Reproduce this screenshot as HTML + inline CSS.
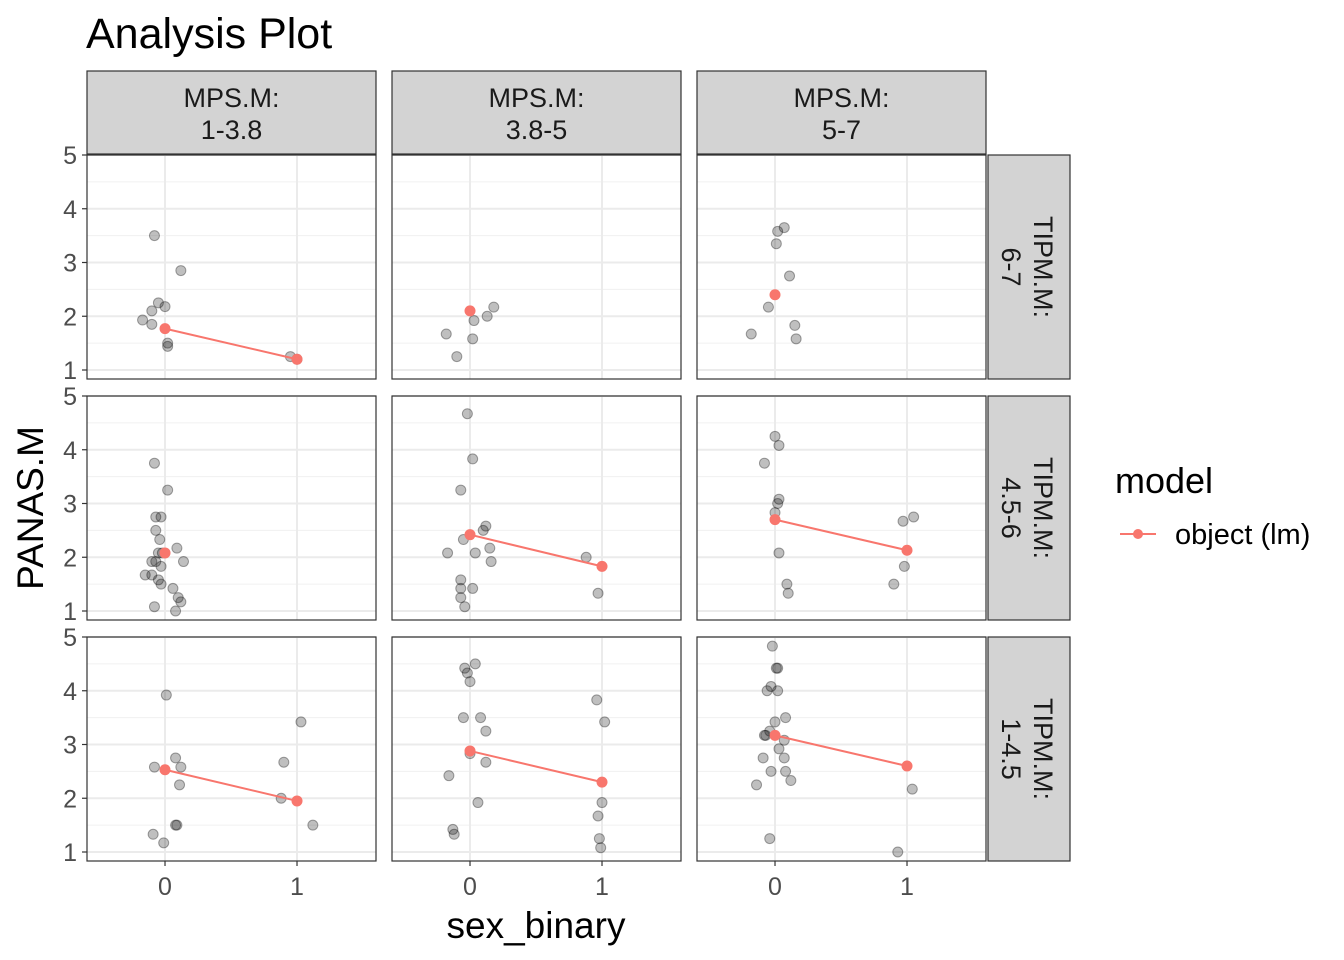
<!DOCTYPE html>
<html><head><meta charset="utf-8"><style>
html,body{margin:0;padding:0;background:#fff;}
svg{display:block;font-family:"Liberation Sans",Arial,sans-serif;}
</style></head><body>
<svg id="chart" width="1344" height="960" viewBox="0 0 1344 960" xmlns="http://www.w3.org/2000/svg">
<text x="86" y="48" font-size="43" fill="#000">Analysis Plot</text>
<text x="536" y="938" text-anchor="middle" font-size="37" fill="#000">sex_binary</text>
<text transform="translate(43,508) rotate(-90)" text-anchor="middle" font-size="37" fill="#000">PANAS.M</text>
<text x="1115" y="493" font-size="36" fill="#000">model</text>
<g>
<line x1="1120" y1="534" x2="1156" y2="534" stroke="#F8766D" stroke-width="2"/>
<circle cx="1138" cy="534" r="5" fill="#F8766D"/>
<text x="1175" y="544" font-size="29" fill="#000">object (lm)</text>
</g>
</svg>
<script>
const colLabels=["1-3.8","3.8-5","5-7"];
const rowLabels=["6-7","4.5-6","1-4.5"];
const xTicks=[0,1];
const yTicks=[1,2,3,4,5];
const ptsX=[
 [[-0.08,0.12,-0.05,0,-0.1,-0.17,-0.1,0.02,0.02,0.95,1.0],
  [-0.18,-0.1,0.02,0.03,0.13,0.18],
  [0.07,0.02,0.01,0.11,-0.05,-0.18,0.15,0.16]],
 [[-0.08,0.02,-0.07,-0.03,-0.07,-0.04,0.09,-0.05,-0.02,0.14,-0.1,-0.07,-0.03,-0.15,-0.1,-0.05,-0.03,0.06,0.1,0.12,-0.08,0.08],
  [-0.02,0.02,-0.07,0.12,0.1,-0.05,0.15,-0.17,0.04,0.16,-0.07,-0.07,0.02,-0.07,-0.04,0.88,0.97],
  [0,0.03,-0.08,0.03,0.02,0,0.03,0.09,0.1,0.97,1.05,0.98,0.9]],
 [[0.01,0.08,-0.08,0.12,0.11,0.08,0.09,-0.09,-0.01,0.9,1.03,0.88,1.12],
  [0.04,-0.04,-0.02,0,-0.05,0.08,0.12,0.12,0,-0.16,0.06,-0.13,-0.12,0.96,1.02,1.0,0.97,0.98,0.99],
  [-0.02,0.01,0.02,-0.03,-0.06,0.02,0.08,0,-0.04,-0.08,-0.07,0.07,0.03,-0.09,0.07,-0.03,0.08,0.12,-0.14,-0.04,1.04,0.93]]
];
const ptsY=[
 [[3.5,2.85,2.25,2.18,2.1,1.93,1.85,1.5,1.44,1.25,1.2],
  [1.67,1.25,1.58,1.92,2.0,2.17],
  [3.65,3.58,3.35,2.75,2.17,1.67,1.83,1.58]],
 [[3.75,3.25,2.75,2.75,2.5,2.33,2.17,2.08,2.08,1.92,1.92,1.92,1.83,1.67,1.67,1.58,1.5,1.42,1.25,1.17,1.08,1.0],
  [4.67,3.83,3.25,2.58,2.5,2.33,2.17,2.08,2.08,1.92,1.58,1.42,1.42,1.25,1.08,2.0,1.33],
  [4.25,4.08,3.75,3.08,3.0,2.83,2.08,1.5,1.33,2.67,2.75,1.83,1.5]],
 [[3.92,2.75,2.58,2.58,2.25,1.5,1.5,1.33,1.17,2.67,3.42,2.0,1.5],
  [4.5,4.42,4.33,4.17,3.5,3.5,3.25,2.67,2.83,2.42,1.92,1.42,1.33,3.83,3.42,1.92,1.67,1.25,1.08],
  [4.83,4.42,4.42,4.08,4.0,4.0,3.5,3.42,3.25,3.17,3.17,3.08,2.92,2.75,2.75,2.5,2.5,2.33,2.25,1.25,2.17,1.0]]
];
const fit0=[[1.77,2.1,2.4],[2.08,2.42,2.7],[2.53,2.88,3.17]];
const fit1=[[1.2,null,null],[null,1.83,2.13],[1.95,2.3,2.6]];

const NS="http://www.w3.org/2000/svg";
const svg=document.getElementById('chart');
function mk(tag,attrs,parent){const e=document.createElementNS(NS,tag);for(const k in attrs)e.setAttribute(k,attrs[k]);(parent||svg).appendChild(e);return e;}
const colL=[87,392,697], PW=289, rowT=[155,396,637], PH=224;
const xMin=-0.591, xPx=132, yPx=53.75;
for(let r=0;r<3;r++)for(let c=0;c<3;c++){
 const L=colL[c],T=rowT[r];
 const sx=v=>L+(v-xMin)*xPx, sy=v=>T+(5-v)*yPx;
 const g=mk('g',{});
 
 
 mk('rect',{x:L,y:T,width:PW,height:PH,fill:'#fff'},g);
 for(let v=1.5;v<5;v+=1){mk('line',{x1:L,x2:L+PW,y1:sy(v),y2:sy(v),stroke:'#f0f0f0','stroke-width':1},g);}
 yTicks.forEach(v=>{mk('line',{x1:L,x2:L+PW,y1:sy(v),y2:sy(v),stroke:'#ebebeb','stroke-width':2},g);});
 xTicks.forEach(v=>{mk('line',{x1:sx(v),x2:sx(v),y1:T,y2:T+PH,stroke:'#ebebeb','stroke-width':2},g);});
 const xs=ptsX[r][c], ys=ptsY[r][c];
 for(let i=0;i<xs.length;i++){
  const p=mk('circle',{cx:sx(xs[i]),cy:sy(ys[i]),r:5,fill:'rgba(0,0,0,0.25)',stroke:'rgba(0,0,0,0.35)','stroke-width':1},g);
  
  
 }
 if(fit0[r][c]!==null&&fit1[r][c]!==null){
  const ln=mk('line',{x1:sx(0),y1:sy(fit0[r][c]),x2:sx(1),y2:sy(fit1[r][c]),stroke:'#F8766D','stroke-width':2},g);
  
  
 }
 [[0,fit0[r][c]],[1,fit1[r][c]]].forEach(([xv,yv])=>{ if(yv===null)return;
  const p=mk('circle',{cx:sx(xv),cy:sy(yv),r:5.5,fill:'#F8766D'},g);
  
  
 });
 mk('rect',{x:L,y:T,width:PW,height:PH,fill:'none',stroke:'#333','stroke-width':1.2},g);
 if(c===0){yTicks.forEach(v=>{
  mk('line',{x1:L-5,x2:L,y1:sy(v),y2:sy(v),stroke:'#333','stroke-width':1.2});
  const t=mk('text',{x:L-10,y:sy(v)+9,'text-anchor':'end','font-size':25,fill:'#4d4d4d'});t.textContent=v;
  
  
 });}
 if(r===2){xTicks.forEach(v=>{
  mk('line',{x1:sx(v),x2:sx(v),y1:T+PH,y2:T+PH+5,stroke:'#333','stroke-width':1.2});
  const t=mk('text',{x:sx(v),y:T+PH+34,'text-anchor':'middle','font-size':25,fill:'#4d4d4d'});t.textContent=v;
  
  
 });}
}
colLabels.forEach((lab,c)=>{
 const g=mk('g',{});
 
 
 mk('rect',{x:colL[c],y:71,width:PW,height:83,fill:'#d3d3d3',stroke:'#333','stroke-width':1.2},g);
 const t1=mk('text',{x:colL[c]+PW/2,y:107,'text-anchor':'middle','font-size':27,fill:'#1a1a1a'},g);t1.textContent='MPS.M:';
 const t2=mk('text',{x:colL[c]+PW/2,y:139,'text-anchor':'middle','font-size':27,fill:'#1a1a1a'},g);t2.textContent=lab;
});
rowLabels.forEach((lab,r)=>{
 const g=mk('g',{});
 
 
 mk('rect',{x:988,y:rowT[r],width:82,height:PH,fill:'#d3d3d3',stroke:'#333','stroke-width':1.2},g);
 const cy=rowT[r]+PH/2;
 const t1=mk('text',{transform:`translate(1034,${cy}) rotate(90)`,'text-anchor':'middle','font-size':27,fill:'#1a1a1a'},g);t1.textContent='TIPM.M:';
 const t2=mk('text',{transform:`translate(1002,${cy}) rotate(90)`,'text-anchor':'middle','font-size':27,fill:'#1a1a1a'},g);t2.textContent=lab;
});
</script>
</body></html>
